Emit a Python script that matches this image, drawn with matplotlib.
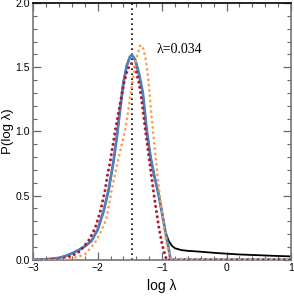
import numpy as np
import matplotlib
matplotlib.use('Agg')
import matplotlib.pyplot as plt
from matplotlib.ticker import MultipleLocator, FuncFormatter

LAM = 0.034

# black: full distribution (with high-lambda tail)
x_black = [-3.0, -2.8, -2.6, -2.5, -2.4, -2.3, -2.2, -2.1, -2.0, -1.91, -1.83, -1.755,
           -1.7, -1.65, -1.6, -1.55, -1.5, -1.47, -1.42, -1.36, -1.3, -1.24, -1.18,
           -1.12, -1.06, -1.0, -0.95, -0.9, -0.85, -0.8, -0.7, -0.6, -0.5, -0.4, -0.2,
           0.0, 0.2, 0.4, 0.6, 0.8, 1.0]
p_black = [0.0, 0.004, 0.015, 0.03, 0.05, 0.075, 0.105, 0.145, 0.235, 0.376, 0.545, 0.765,
           0.97, 1.18, 1.38, 1.51, 1.58, 1.595, 1.56, 1.45, 1.3, 1.01, 0.8,
           0.65, 0.52, 0.36, 0.22, 0.15, 0.11, 0.09, 0.076, 0.07, 0.067, 0.063, 0.055,
           0.048, 0.042, 0.038, 0.034, 0.03, 0.027]

# blue: fit
x_blue = [-3.0, -2.8, -2.6, -2.5, -2.4, -2.3, -2.2, -2.1, -2.0, -1.91, -1.83, -1.755,
          -1.7, -1.65, -1.6, -1.55, -1.5, -1.47, -1.42, -1.36, -1.3, -1.24, -1.18,
          -1.12, -1.06, -1.0, -0.95, -0.9, -0.87, -0.5, 0.0, 1.0]
p_blue = [0.0, 0.004, 0.015, 0.03, 0.05, 0.075, 0.105, 0.145, 0.235, 0.376, 0.545, 0.765,
          0.97, 1.18, 1.38, 1.51, 1.58, 1.595, 1.56, 1.45, 1.3, 1.01, 0.8,
          0.65, 0.52, 0.36, 0.22, 0.09, 0.0, 0.0, 0.0, 0.0]

# red dotted
x_red = [-3.0, -2.6, -2.5, -2.4, -2.28, -2.14, -2.04, -1.96, -1.884, -1.848, -1.806,
         -1.73, -1.65, -1.6, -1.55, -1.5, -1.47, -1.42, -1.36, -1.32, -1.26, -1.2,
         -1.12, -1.05, -1.0, -0.95, -0.93, 0.0, 1.0]
p_red = [0.0, 0.005, 0.014, 0.031, 0.065, 0.15, 0.247, 0.376, 0.545, 0.66, 0.765,
         1.0, 1.22, 1.36, 1.46, 1.52, 1.53, 1.5, 1.38, 1.25, 1.01, 0.78,
         0.48, 0.25, 0.12, 0.03, 0.0, 0.0, 0.0]

# orange dotted
x_orange = [-3.0, -2.6, -2.5, -2.4, -2.29, -2.18, -2.1, -2.04, -1.95, -1.87, -1.82,
            -1.765, -1.65, -1.57, -1.5, -1.45, -1.4, -1.34, -1.3, -1.25, -1.21, -1.17,
            -1.14, -1.08, -1.03, -0.98, -0.93, -0.88, -0.85, 0.0, 1.0]
p_orange = [0.0, 0.0, 0.005, 0.012, 0.026, 0.05, 0.1, 0.135, 0.22, 0.31, 0.44,
            0.59, 0.85, 1.02, 1.25, 1.42, 1.57, 1.67, 1.66, 1.55, 1.38, 1.15,
            0.99, 0.7, 0.47, 0.28, 0.12, 0.03, 0.0, 0.0, 0.0]

fig = plt.figure(figsize=(2.94, 2.98), dpi=100)
ax = fig.add_axes([0.113, 0.128, 0.877, 0.862])

ax.plot(x_black, p_black, color='black', lw=1.3, zorder=2)
ax.plot(x_blue, p_blue, color='#4f81bd', lw=2.0, zorder=3)
ax.plot(x_red, p_red, color='#b2182b', lw=2.2, ls=(0, (0.01, 1.7)),
        dash_capstyle='round', zorder=4)
ax.plot(x_orange, p_orange, color='#fd9a4e', lw=2.0, ls=(0, (0.01, 1.9)),
        dash_capstyle='round', zorder=4)
ax.axvline(np.log10(LAM), color='black', lw=1.2, ls=(0, (1, 2)), zorder=1)

ax.text(-1.09, 1.635, f'λ={LAM}', family='Liberation Serif', fontsize=10,
        va='center', ha='left')

ax.set_xlim(-3, 1)
ax.set_ylim(0, 2)
ax.xaxis.set_major_locator(MultipleLocator(1))
ax.xaxis.set_minor_locator(MultipleLocator(0.2))
ax.yaxis.set_major_locator(MultipleLocator(0.5))
ax.yaxis.set_minor_locator(MultipleLocator(0.1))
ax.tick_params(which='both', direction='in', top=True, right=True,
               color='#666666', labelsize=7.5, pad=2.5)
ax.tick_params(which='major', length=6, width=0.9)
ax.tick_params(which='minor', length=3, width=0.8)
ax.xaxis.set_major_formatter(FuncFormatter(
    lambda v, p: f'{v:.0f}'.replace('-', '\u2212')))
ax.yaxis.set_major_formatter(FuncFormatter(lambda v, p: f'{v:.1f}'))
for s in ['left', 'bottom', 'right']:
    ax.spines[s].set_color('#777777')
ax.spines['top'].set_color('black')
for s in ax.spines.values():
    s.set_linewidth(1.2)

for lab in ax.get_xticklabels() + ax.get_yticklabels():
    lab.set_family('Liberation Sans')
ax.set_xlabel('log λ', family='Liberation Sans', fontsize=10, labelpad=4)
ax.set_ylabel('P(log λ)', family='Liberation Sans', fontsize=9.5, labelpad=1)

fig.savefig('out.png', dpi=100)
